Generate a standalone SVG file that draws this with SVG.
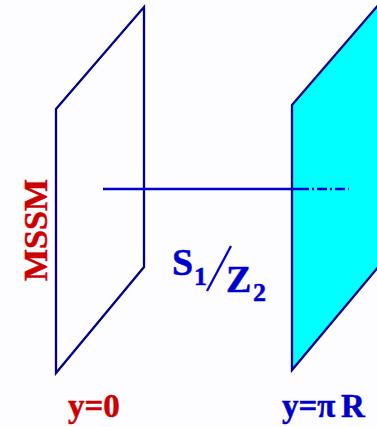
<svg xmlns="http://www.w3.org/2000/svg" width="377" height="427" viewBox="0 0 377 427">
<style>
.b{stroke:#00008b;stroke-width:2.3;stroke-linejoin:miter}
.l{stroke:#0000cd;stroke-width:2.3;fill:none}
text{font-family:"Liberation Serif",serif;font-weight:bold}
.r{fill:#cc0000;stroke:#cc0000;stroke-width:.5}.u{fill:#0000cd;stroke:#0000cd;stroke-width:.5}
</style>
<rect width="377" height="427" fill="#fdfdff"/>
<g id="brane-left"><polygon class="b" fill="none" points="56,109 144,7 144,267 56,373"/></g>
<g id="brane-right"><polygon class="b" fill="#00ffff" points="292,105 380,3 380,265 292,370"/></g>
<g id="connectors">
<line class="l" x1="103" y1="189" x2="299" y2="189"/>
<line class="l" x1="299" y1="189" x2="349" y2="189" stroke-dasharray="10 3 2 3"/>
</g>
<g id="label-mssm"><text class="r" font-size="34" transform="translate(47,281) rotate(-90)">MSSM</text></g>
<g id="label-s1z2">
<text class="u" x="172" y="275" font-size="38">S</text>
<text class="u" x="194" y="285" font-size="26">1</text>
<line class="l" x1="207" y1="291" x2="231" y2="246"/>
<text class="u" x="226" y="292" font-size="38">Z</text>
<text class="u" x="253" y="301" font-size="26">2</text>
</g>
<g id="label-y0"><text class="r" x="68" y="417" font-size="33">y=0</text></g>
<g id="label-ypir"><text class="u" x="282" y="417" font-size="33">y=π</text><text class="u" x="341" y="417" font-size="33">R</text></g>
</svg>
